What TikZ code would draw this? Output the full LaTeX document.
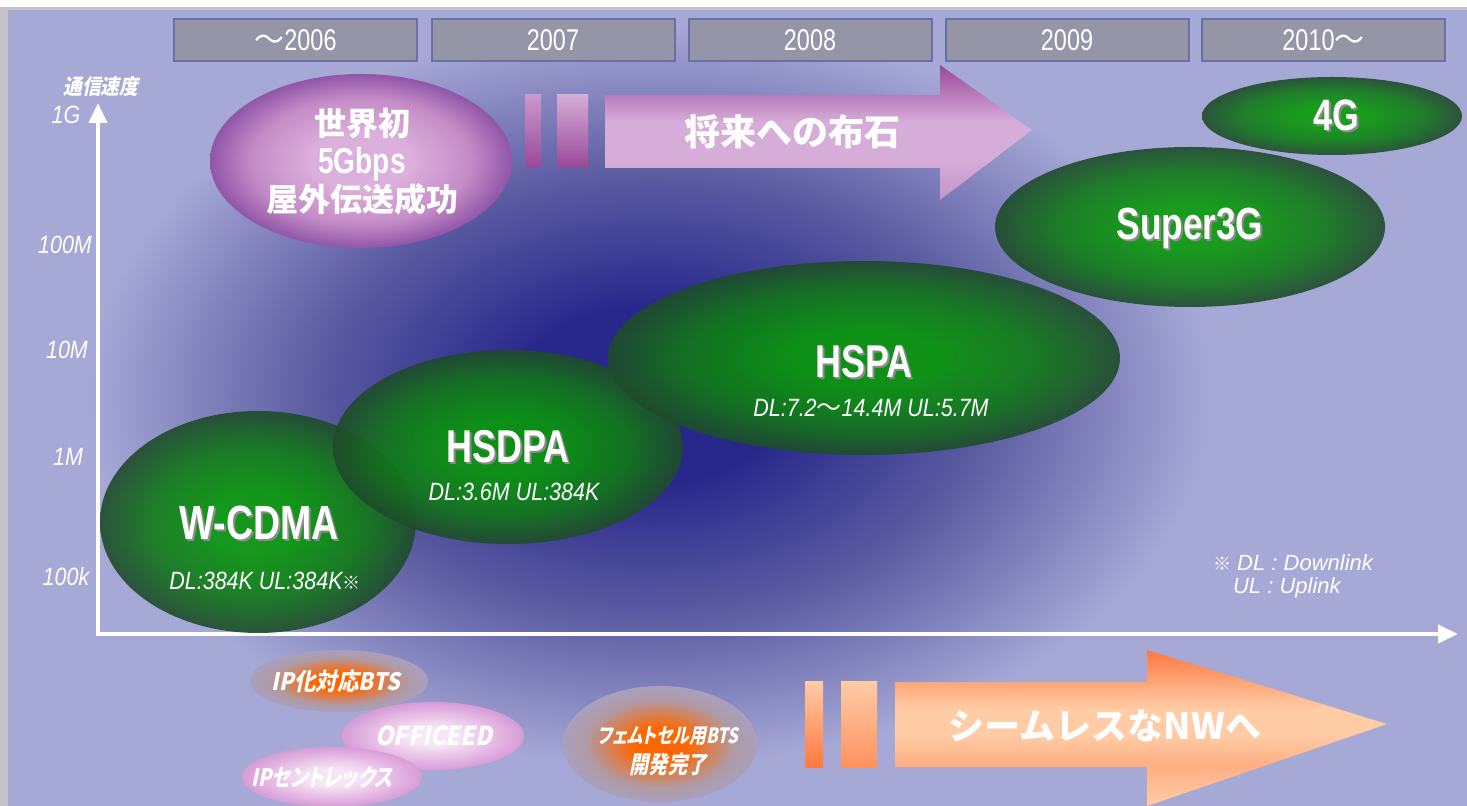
\documentclass[tikz,border=0pt]{standalone}
\usepackage{fontspec}
\setmainfont{Liberation Sans}
\newfontfamily\jp{Noto Sans CJK JP}
\newfontfamily\jpi[FakeSlant=0.2,FakeStretch=0.9,RawFeature=+palt]{Noto Sans CJK JP}
\newfontfamily\jpn[FakeSlant=0.2,FakeStretch=0.8,RawFeature=+palt]{Noto Sans CJK JP}
\newfontfamily\lc[FakeStretch=0.78]{Liberation Sans}
\newfontfamily\lci[FakeStretch=0.86]{Liberation Sans}
\usetikzlibrary{arrows.meta,shapes.geometric}
\definecolor{bgc}{HTML}{A6A8D6}
\definecolor{framegray}{HTML}{C4C4C8}
\definecolor{glowc}{HTML}{28288C}
\definecolor{glowm}{HTML}{5C5CA2}
\definecolor{yfill}{HTML}{9496A8}
\definecolor{yline}{HTML}{6C6EA8}
\definecolor{gin}{HTML}{0A9A0A}
\definecolor{gmid}{HTML}{117A18}
\definecolor{gout}{HTML}{1F4A2C}
\definecolor{pin}{HTML}{DCB0DC}
\definecolor{pmid}{HTML}{C48CC6}
\definecolor{pout}{HTML}{9056A8}
\definecolor{orc}{HTML}{FF6600}
\definecolor{ored}{HTML}{B09AA4}
\definecolor{oredo}{HTML}{A8A0BE}
\definecolor{pkc}{HTML}{FBEAF8}
\definecolor{pkm}{HTML}{EBBDE6}
\definecolor{pko}{HTML}{D89CD8}
\definecolor{pal}{HTML}{D6ACD8}
\definecolor{pal2}{HTML}{C296C8}
\definecolor{pad}{HTML}{984898}
\definecolor{oal}{HTML}{FFCCA6}
\definecolor{oal2}{HTML}{FFAE82}
\definecolor{oad}{HTML}{FF7840}
\pgfdeclareradialshading{darkglow}{\pgfpoint{0bp}{0bp}}{color(0bp)=(glowc); color(6bp)=(glowc); color(15bp)=(glowm); color(25bp)=(bgc); color(50bp)=(bgc)}
\pgfdeclareradialshading{greenglow}{\pgfpoint{0bp}{0bp}}{color(0bp)=(gin); color(7bp)=(gin); color(17bp)=(gmid); color(25bp)=(gout); color(50bp)=(gout)}
\pgfdeclareradialshading{purpleglow}{\pgfpoint{0bp}{0bp}}{color(0bp)=(pin); color(8bp)=(pin); color(18bp)=(pmid); color(25bp)=(pout); color(50bp)=(pout)}
\pgfdeclareradialshading{orangeglow}{\pgfpoint{0bp}{0bp}}{color(0bp)=(orc); color(7bp)=(orc); color(19bp)=(ored); color(25bp)=(oredo); color(50bp)=(oredo)}
\pgfdeclareradialshading{pinkglow}{\pgfpoint{0bp}{0bp}}{color(0bp)=(pkc); color(7bp)=(pkc); color(17bp)=(pkm); color(25bp)=(pko); color(50bp)=(pko)}
\pgfdeclareverticalshading{purparrow}{100bp}{color(0bp)=(pal2); color(25bp)=(pal2); color(40bp)=(pal); color(54bp)=(pal); color(75bp)=(pad); color(100bp)=(pad)}
\pgfdeclareverticalshading{orarrow}{100bp}{color(0bp)=(oal); color(25bp)=(oal); color(38bp)=(oal2); color(48bp)=(oal); color(56bp)=(oal); color(75bp)=(oad); color(100bp)=(oad)}
\tikzset{
  yearbox/.style={draw=yline, line width=1pt, fill=yfill, minimum width=121.5pt, minimum height=21pt, inner sep=0pt, text=white, font=\lc\fontsize{15}{15}\selectfont},
  greenell/.style={ellipse, inner sep=0pt, shade, shading=greenglow, fill opacity=0.9},
  orangeell/.style={ellipse, inner sep=0pt, shade, shading=orangeglow},
  pinkell/.style={ellipse, inner sep=0pt, shade, shading=pinkglow, fill opacity=0.95},
  axislabel/.style={text=white, font=\lci\itshape\fontsize{12.5}{12.5}\selectfont},
  dllabel/.style={text=white, font=\lci\itshape\fontsize{12.5}{12.5}\selectfont},
  bottomlabel/.style={text=white, font=\jpi\bfseries\fontsize{12}{12}\selectfont, align=center},
  axisline/.style={white, line width=2pt, -{Triangle[width=9pt,length=10pt]}},
}
\newcommand\shadowtext[4]{%
  \node[text=black!45, font=#3] at ([xshift=1pt,yshift=-1pt]#2) {#4};
  \node[text=white, font=#3] (#1) at (#2) {#4};}
\begin{document}
\begin{tikzpicture}[x=0.5pt,y=-0.5pt]
\useasboundingbox (0,0) rectangle (1467,806);
\fill[white] (0,0) rectangle (1467,806);
\fill[framegray] (0,7) rectangle (1467,806);
\fill[bgc] (8,10) rectangle (1467,806);
\begin{scope}
\clip (8,10) rectangle (1467,806);
\shade[shading=darkglow] (650,395) ellipse [x radius=560, y radius=370];
\end{scope}
% year boxes
\node[yearbox] (y1) at (295.5,40) {{\jp ～}2006};
\node[yearbox] (y2) at (553,40) {2007};
\node[yearbox] (y3) at (810,40) {2008};
\node[yearbox] (y4) at (1067,40) {2009};
\node[yearbox] (y5) at (1323.5,40) {2010{\jp ～}};
% axes
\coordinate (origin) at (98,634);
\coordinate (ytop) at (98,103);
\coordinate (xend) at (1458,634);
\draw[axisline] ([yshift=-1pt]origin) -- (ytop);
\draw[axisline] ([xshift=-1pt]origin) -- (xend);
\node[text=white, font=\jpi\bfseries\fontsize{10.5}{10.5}\selectfont] (speed) at (101,87) {通信速度};
\node[axislabel] (l1g) at (66,115) {1G};
\node[axislabel] (l100m) at (65,245) {100M};
\node[axislabel] (l10m) at (67,350) {10M};
\node[axislabel] (l1m) at (68,457) {1M};
\node[axislabel] (l100k) at (66,577) {100k};
% 世界初
\node[ellipse, inner sep=0pt, shade, shading=purpleglow, minimum width=151pt, minimum height=87pt] (worldE) at (361,161) {};
\node[text=white, font=\jp\bfseries\fontsize{16}{19}\selectfont, align=center] (world) at (362,162) {世界初\\{\lc\bfseries\fontsize{18}{19}\selectfont 5Gbps}\\屋外伝送成功};
% purple arrow
\shade[top color=pal!80!pad, bottom color=pad] (525,95) rectangle (541,168);
\shade[top color=pal, bottom color=pad] (557,95) rectangle (588,168);
\shade[shading=purparrow] (605,95) -- (940,95) -- (940,65) -- (1032,130) -- (940,200) -- (940,168) -- (605,168) -- cycle;
\node[text=white, font=\jp\bfseries\fontsize{18}{18}\selectfont] (future) at (792,132) {将来への布石};
% green ellipses
\node[greenell, minimum width=158pt, minimum height=111pt] (wcdmaE) at (258,522) {};
\node[greenell, minimum width=175pt, minimum height=97pt] (hsdpaE) at (508,447) {};
\node[greenell, minimum width=256pt, minimum height=97pt] (hspaE) at (864,358) {};
\node[greenell, minimum width=195pt, minimum height=80pt] (s3gE) at (1190,227) {};
\node[greenell, minimum width=130pt, minimum height=39pt] (g4E) at (1332,116) {};
\shadowtext{wcdma}{259,523}{\lc\bfseries\fontsize{24}{24}\selectfont}{W-CDMA}
\node[dllabel] (wcdmaDL) at (265,581) {DL:384K UL:384K{\jp\upshape\fontsize{9}{9}\selectfont ※}};
\shadowtext{hsdpa}{508,447}{\lc\bfseries\fontsize{23}{23}\selectfont}{HSDPA}
\node[dllabel] (hsdpaDL) at (514,492) {DL:3.6M UL:384K};
\shadowtext{hspa}{864,362}{\lc\bfseries\fontsize{23}{23}\selectfont}{HSPA}
\node[dllabel] (hspaDL) at (871,408) {DL:7.2{\jp\upshape 〜}14.4M UL:5.7M};
\shadowtext{s3g}{1190,228}{\lc\bfseries\fontsize{22.5}{22.5}\selectfont}{Super3G}
\shadowtext{g4}{1336,115}{\lc\bfseries\fontsize{22}{22}\selectfont}{4G}
% note
\node[text=white, font=\itshape\fontsize{11}{11}\selectfont, anchor=west] (note1) at (1206,563) {{\jp\upshape\fontsize{9}{9}\selectfont ※} DL : Downlink};
\node[text=white, font=\itshape\fontsize{11}{11}\selectfont, anchor=west] (note2) at (1226,588) {UL : Uplink};
% bottom ellipses
\node[orangeell, minimum width=89pt, minimum height=31pt] (ipbtsE) at (339,681) {};
\node[bottomlabel] (ipbts) at (336,681) {IP化対応BTS};
\node[pinkell, minimum width=91pt, minimum height=34pt] (officeE) at (433,736) {};
\node[bottomlabel, font=\jpi\bfseries\fontsize{13}{13}\selectfont] (office) at (434,736) {OFFICEED};
\node[pinkell, minimum width=90pt, minimum height=30pt] (ipcE) at (332,777) {};
\node[bottomlabel, font=\jpn\bfseries\fontsize{12}{12}\selectfont] (ipc) at (322,778) {IPセントレックス};
\node[orangeell, minimum width=97pt, minimum height=58pt] (femtoE) at (660,744) {};
\node[bottomlabel, font=\jpn\bfseries\fontsize{10.5}{15}\selectfont] (femto) at (668,751) {フェムトセル用BTS\\{\fontsize{12}{15}\selectfont 開発完了}};
% orange arrow
\shade[top color=oal, bottom color=oad] (805,681) rectangle (823,767);
\shade[top color=oal, bottom color=oad!70!oal] (841,681) rectangle (877,767);
\shade[shading=orarrow] (895,682) -- (1147,682) -- (1147,650) -- (1387,724) -- (1147,806) -- (1147,767) -- (895,767) -- cycle;
\node[text=white, font=\jp\bfseries\fontsize{18}{18}\selectfont] (seamless) at (1105,726) {シームレスなNWへ};
\end{tikzpicture}
\end{document}
